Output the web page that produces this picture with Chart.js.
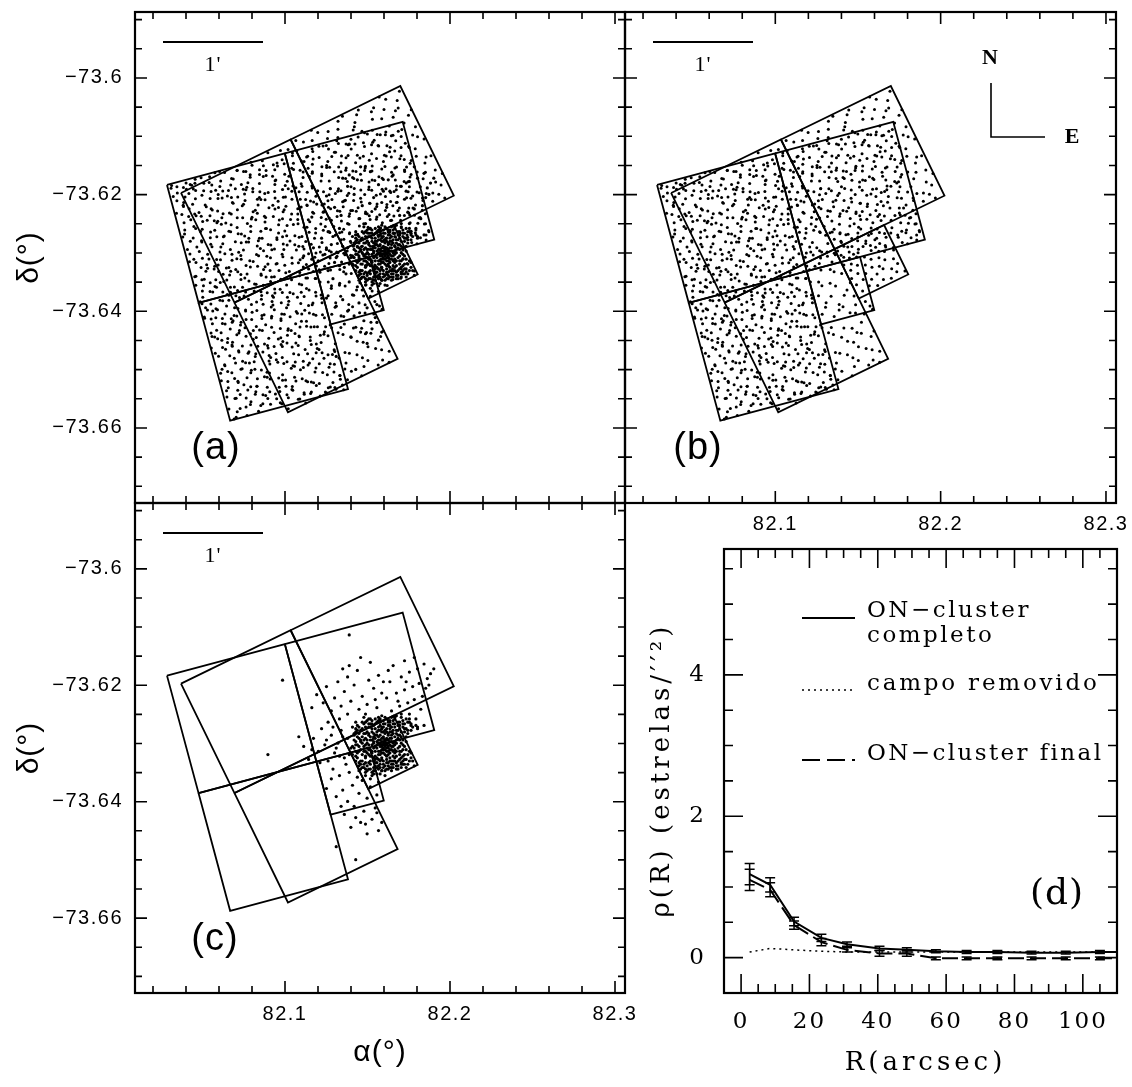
<!DOCTYPE html>
<html>
<head>
<meta charset="utf-8">
<script src="https://cdn.jsdelivr.net/npm/chart.js@4.4.0/dist/chart.umd.min.js"></script>
<style>
  html, body { margin: 0; padding: 0; background: #fff; }
  #wrap { position: relative; width: 1132px; height: 1087px; background: #fff; }
  #wrap canvas { position: absolute; left: 0; top: 0; }
</style>
</head>
<body>
<div id="wrap">
  <canvas id="panelA" width="1132" height="1087"></canvas>
  <canvas id="panelB" width="1132" height="1087"></canvas>
  <canvas id="panelC" width="1132" height="1087"></canvas>
  <canvas id="panelD" width="1132" height="1087"></canvas>
</div>
<script>
// ---- axis ranges and tick labels ----
const RA_MIN = 82.00909, RA_MAX = 82.30606;
const DEC_MIN = -73.67286, DEC_MAX = -73.58869;
const raTicks = [82.1, 82.2, 82.3];
const raTickLabels = ['82.1', '82.2', '82.3'];
const decTicks = [-73.6, -73.62, -73.64, -73.66];
const decTickLabels = ['\u221273.6', '\u221273.62', '\u221273.64', '\u221273.66'];
const rTicks = [0, 20, 40, 60, 80, 100];
const rhoTicks = [0, 2, 4];

// ---- WFPC2 chip outlines, corners [RA, Dec] (TL, TR, BR, BL) ----
// pointing 1
const chipP1UL = [[82.03697, -73.61971], [82.10342, -73.61055], [82.13584, -73.62934], [82.06938, -73.63851]];
const chipP1UR = [[82.10342, -73.61055], [82.16988, -73.60138], [82.20229, -73.62018], [82.13584, -73.62934]];
const chipP1LL = [[82.06938, -73.63851], [82.13584, -73.62934], [82.16825, -73.64814], [82.10179, -73.65731]];
const chipP1PC = [[82.13584, -73.62934], [82.16579, -73.62521], [82.18041, -73.63368], [82.15045, -73.63782]];
// pointing 2
const chipP2UL = [[82.02848, -73.61834], [82.09990, -73.61293], [82.11904, -73.63313], [82.04762, -73.63854]];
const chipP2UR = [[82.09990, -73.61293], [82.17132, -73.60752], [82.19046, -73.62772], [82.11904, -73.63313]];
const chipP2LL = [[82.04762, -73.63854], [82.11904, -73.63313], [82.13817, -73.65333], [82.06675, -73.65875]];
const chipP2PC = [[82.11904, -73.63313], [82.15124, -73.63069], [82.15986, -73.63980], [82.12766, -73.64224]];
const chips = [chipP1UL, chipP1UR, chipP1LL, chipP1PC, chipP2UL, chipP2UR, chipP2LL, chipP2PC];

// ---- field stars: position inside a chip, [% along top edge, % down side edge] ----
const fieldP1UL = [[1,4],[10,1],[17,6],[24,2],[33,5],[39,0],[49,3],[55,7],[62,2],[71,5],[78,1],[88,4],[94,6],
[4,12],[8,9],[19,14],[26,10],[31,13],[43,8],[47,15],[57,11],[64,14],[70,9],[81,12],[86,15],[96,10],
[2,20],[13,17],[16,22],[28,18],[35,21],[41,16],[50,19],[54,22],[66,17],[73,20],[77,16],[90,21],[93,18],
[6,24],[9,29],[20,26],[23,30],[34,25],[44,28],[46,23],[58,27],[61,30],[74,24],[82,29],[85,26],[97,28],
[0,35],[14,32],[18,37],[29,33],[32,38],[40,31],[52,36],[56,33],[67,37],[69,32],[80,35],[91,38],[95,32],
[5,43],[11,39],[21,45],[25,41],[36,40],[42,44],[48,39],[59,42],[63,45],[75,40],[79,44],[87,41],[98,43],
[3,48],[12,52],[15,47],[27,50],[37,53],[45,46],[51,51],[53,48],[68,50],[72,47],[83,53],[89,49],[92,52],
[7,57],[10,60],[22,55],[30,59],[31,54],[41,61],[49,56],[60,58],[65,55],[76,61],[78,57],[88,54],[99,59],
[1,66],[15,63],[17,68],[25,64],[38,69],[43,62],[54,67],[57,64],[62,69],[71,63],[84,67],[90,62],[94,68],
[6,71],[8,75],[20,70],[28,76],[33,72],[46,74],[47,70],[59,76],[68,72],[73,75],[80,70],[86,74],[97,71],
[2,80],[13,78],[19,83],[24,79],[35,84],[40,77],[52,81],[55,78],[64,83],[74,80],[77,84],[91,78],[95,82],
[5,88],[11,91],[16,85],[29,89],[32,92],[44,86],[50,90],[58,87],[66,91],[70,85],[82,89],[87,92],[98,86],
[3,95],[9,98],[21,93],[27,97],[36,94],[42,99],[48,96],[61,93],[63,98],[75,95],[81,93],[89,97],[93,99]];
const fieldP1UR = [[3,2],[8,6],[18,0],[22,4],[30,7],[41,3],[46,1],[57,5],[60,2],[72,6],[80,0],[84,4],[97,3],
[0,10],[12,14],[15,8],[27,12],[35,15],[38,9],[51,13],[53,10],[67,14],[69,8],[79,11],[90,15],[92,9],
[6,18],[9,22],[21,16],[24,20],[33,17],[44,21],[49,15],[55,19],[63,22],[74,17],[83,20],[87,16],[99,21],
[2,27],[14,23],[19,29],[28,25],[31,30],[40,24],[52,28],[58,23],[65,27],[71,30],[77,25],[89,28],[95,24],
[4,31],[10,36],[16,33],[25,37],[36,32],[43,35],[47,38],[59,31],[62,36],[75,33],[82,37],[85,32],[96,35],
[7,41],[13,44],[20,39],[29,42],[34,45],[39,40],[50,43],[54,39],[68,44],[70,41],[78,45],[91,40],[94,43],
[1,47],[11,50],[17,53],[26,48],[32,51],[45,46],[48,52],[60,49],[64,46],[73,53],[84,48],[88,51],[98,47],
[5,58],[8,54],[23,60],[27,56],[37,55],[42,59],[53,61],[56,54],[66,58],[76,55],[79,60],[86,57],[93,61],
[3,63],[14,68],[18,64],[24,67],[33,62],[41,66],[49,69],[61,63],[62,67],[72,64],[81,69],[90,65],[97,62],
[6,73],[10,70],[22,76],[29,71],[35,75],[46,72],[52,70],[57,75],[69,73],[74,70],[83,76],[87,72],[95,74],
[0,79],[12,83],[15,77],[28,81],[30,84],[40,78],[47,82],[58,80],[64,84],[70,77],[78,81],[91,83],[99,79],
[4,86],[9,90],[19,88],[25,92],[38,87],[43,91],[51,85],[55,89],[67,86],[75,92],[80,88],[85,90],[94,87],
[7,96],[13,93],[21,99],[26,94],[34,97],[44,95],[48,93],[60,98],[65,94],[71,99],[82,96],[89,93],[92,98]];
const fieldP1LL = [[0,5],[11,2],[16,7],[23,1],[34,4],[38,6],[50,0],[57,3],[61,7],[73,2],[79,5],[86,1],[98,4],
[5,9],[9,13],[20,11],[27,15],[30,8],[44,12],[46,14],[54,9],[68,11],[70,15],[82,10],[89,13],[93,8],
[2,16],[14,21],[17,19],[25,16],[36,22],[40,18],[53,20],[59,17],[63,21],[76,18],[77,22],[91,16],[96,20],
[7,25],[10,30],[22,23],[28,28],[32,26],[42,30],[48,24],[56,29],[66,25],[71,28],[84,23],[87,27],[99,30],
[3,33],[12,38],[18,31],[24,35],[37,37],[45,32],[51,34],[55,38],[64,31],[74,36],[80,33],[90,37],[94,34],
[1,40],[8,45],[21,42],[29,39],[33,44],[39,41],[47,45],[60,40],[67,43],[72,39],[83,42],[85,45],[97,41],
[6,51],[13,46],[19,49],[26,53],[35,48],[43,52],[52,47],[58,50],[62,53],[75,49],[81,46],[88,52],[95,48],
[4,55],[10,59],[15,57],[28,61],[31,54],[41,58],[49,60],[54,55],[65,59],[69,56],[78,61],[92,54],[98,58],
[0,64],[14,62],[20,67],[23,65],[37,69],[44,63],[46,68],[59,66],[68,62],[73,67],[84,64],[86,69],[93,63],
[7,74],[9,70],[17,76],[27,72],[33,71],[40,75],[53,73],[56,70],[63,76],[76,72],[80,75],[89,71],[99,74],
[2,78],[12,82],[22,80],[25,84],[36,77],[46,81],[48,79],[60,84],[66,78],[71,82],[82,80],[87,84],[95,77],
[5,89],[11,85],[18,92],[29,87],[30,90],[42,86],[51,91],[57,88],[61,92],[74,86],[77,90],[91,87],[96,91],
[1,97],[13,94],[16,99],[24,93],[38,96],[43,98],[50,94],[55,97],[67,99],[72,93],[83,97],[88,95],[92,99]];
const fieldP1PC = [[3,5],[17,2],[30,9],[44,4],[57,11],[72,3],[86,8],
[8,20],[21,16],[35,24],[48,18],[61,22],[77,15],[93,21],
[2,33],[15,37],[29,30],[42,36],[58,31],[70,38],[85,34],
[9,47],[24,44],[37,50],[51,45],[65,49],[79,43],[95,48],
[4,61],[18,58],[31,64],[46,59],[59,63],[73,57],[88,62],
[7,75],[22,72],[36,78],[49,74],[63,70],[77,77],[91,73],
[12,90],[27,87],[41,93],[55,88],[69,92],[83,86],[97,91]];
const fieldP2UL = [[7,3],[52,8],[23,1],[88,6],[35,9],[71,2],[14,7],[96,4],[44,0],[63,5],[29,6],[81,9],[3,1],[58,3],[91,8],[18,4],[76,7],
[41,12],[9,17],[67,11],[25,15],[86,19],[50,13],[2,10],[73,18],[33,14],[95,16],[15,11],[59,19],[80,13],[47,17],[21,10],[64,15],[38,18],
[12,23],[78,27],[45,21],[93,25],[30,29],[61,20],[5,26],[85,22],[19,28],[53,24],[70,29],[37,21],[99,27],[26,25],[66,23],[8,20],[48,28],
[56,31],[20,36],[89,34],[4,39],[68,30],[36,37],[11,32],[79,38],[43,35],[97,31],[27,33],[62,39],[84,36],[16,30],[50,34],[74,32],[32,39],
[1,44],[46,48],[83,41],[24,46],[60,43],[92,49],[13,40],[70,45],[38,42],[55,47],[87,44],[31,40],[6,49],[77,47],[18,42],[65,41],[98,46],
[34,52],[72,57],[10,55],[57,50],[90,53],[22,58],[48,54],[81,51],[3,59],[64,56],[40,50],[95,58],[15,52],[69,55],[28,51],[53,59],[86,57],
[60,63],[17,67],[83,61],[42,68],[5,64],[75,66],[29,60],[93,69],[52,62],[12,65],[67,68],[36,64],[99,62],[23,69],[80,65],[46,61],[58,67],
[9,72],[49,77],[88,74],[26,70],[66,79],[35,73],[79,71],[2,78],[57,75],[94,77],[19,76],[43,71],[71,73],[31,78],[85,70],[14,74],[62,72],
[54,83],[21,88],[76,81],[39,86],[97,84],[7,82],[63,89],[30,84],[89,87],[45,80],[13,86],[70,85],[36,81],[82,88],[1,85],[58,87],[25,82],
[44,93],[86,97],[17,91],[65,95],[33,98],[93,92],[4,96],[55,90],[78,94],[24,99],[70,91],[11,93],[49,97],[38,90],[97,99],[61,98],[28,94]];
const fieldP2UR = [[61,2],[16,7],[84,4],[39,9],[5,3],[73,8],[28,1],[94,6],[50,5],[11,9],[67,0],[44,3],[89,8],[22,4],[57,7],[34,2],[79,5],
[3,14],[70,11],[26,18],[90,13],[47,16],[13,10],[58,19],[82,15],[36,12],[97,17],[19,14],[64,11],[42,19],[8,16],[75,13],[53,10],[30,18],
[87,21],[40,26],[14,23],[66,28],[99,20],[24,25],[52,29],[78,22],[6,27],[45,24],[91,26],[32,20],[60,28],[17,21],[83,25],[71,23],[1,29],
[48,33],[22,38],[76,31],[9,35],[63,39],[37,30],[93,36],[55,32],[28,37],[85,34],[14,31],[69,38],[43,35],[98,32],[2,39],[59,30],[80,37],
[31,42],[88,47],[12,44],[54,49],[72,41],[40,46],[95,43],[20,48],[65,40],[6,45],[47,42],[81,49],[27,46],[59,44],[36,41],[91,48],[15,40],
[75,53],[4,57],[50,51],[29,56],[96,58],[63,52],[18,54],[84,50],[41,59],[9,52],[70,55],[56,57],[35,50],[89,56],[24,53],[46,58],[80,52],
[13,63],[67,66],[38,61],[92,68],[21,60],[56,64],[7,69],[78,62],[45,67],[99,64],[30,65],[61,61],[86,69],[16,66],[51,63],[73,60],[2,67],
[58,71],[34,76],[85,73],[10,78],[69,70],[26,74],[93,79],[47,72],[77,77],[18,71],[62,75],[40,79],[5,73],[89,76],[53,70],[30,72],[81,74],
[22,82],[74,87],[48,80],[3,85],[90,83],[37,89],[64,81],[14,86],[83,88],[56,84],[28,80],[96,85],[42,83],[8,88],[69,86],[33,84],[60,89],
[79,92],[11,96],[52,90],[36,98],[94,94],[25,91],[67,97],[45,93],[2,99],[86,90],[59,95],[19,92],[73,99],[40,96],[97,91],[30,94],[63,93]];
const fieldP2LL = [[33,4],[78,1],[12,8],[56,6],[91,3],[25,0],[68,9],[4,5],[46,2],[85,7],[19,3],[62,8],[39,1],[97,5],[9,9],[73,4],[51,7],
[83,13],[27,18],[60,11],[6,15],[94,19],[41,12],[15,17],[71,14],[50,10],[35,16],[88,11],[22,19],[65,17],[1,12],[79,16],[44,18],[58,14],
[16,22],[54,27],[90,24],[31,29],[70,20],[8,25],[47,23],[82,28],[23,21],[63,26],[38,24],[98,22],[3,29],[75,27],[58,21],[28,26],[86,25],
[61,31],[14,37],[42,34],[96,38],[25,32],[77,36],[5,30],[53,39],[88,33],[34,35],[69,30],[18,38],[48,31],[81,37],[10,34],[65,39],[37,33],
[2,43],[45,48],[80,41],[21,46],[63,44],[93,49],[35,40],[72,47],[11,42],[55,45],[86,43],[29,49],[67,41],[43,46],[99,45],[17,40],[58,48],
[40,52],[84,57],[7,55],[61,50],[27,58],[95,53],[50,56],[16,51],[74,59],[33,54],[89,51],[4,57],[68,52],[45,58],[22,55],[80,53],[56,50],
[75,63],[12,67],[49,61],[91,68],[30,64],[64,60],[1,66],[85,62],[39,69],[20,61],[57,65],[97,67],[43,63],[8,60],[70,68],[26,66],[82,64],
[36,72],[94,77],[18,74],[59,71],[77,79],[5,73],[47,76],[87,70],[28,78],[66,74],[14,71],[52,79],[99,73],[40,75],[73,72],[23,77],[62,70],
[9,83],[55,88],[83,81],[31,86],[68,84],[2,80],[45,87],[92,83],[20,89],[60,82],[37,85],[78,89],[13,81],[51,84],[96,87],[26,82],[72,86],
[64,93],[24,98],[89,91],[43,96],[7,94],[76,99],[34,90],[58,97],[15,92],[96,95],[50,91],[81,97],[29,93],[69,95],[3,99],[41,92],[86,94]];
// extra stars in the strips of pointing 2 not covered by pointing 1
const stripP2UL = [[2,3],[6,8],[4,14],[8,19],[1,24],[10,29],[5,33],[12,38],[3,42],[9,47],[15,51],[2,55],[11,59],
[17,63],[6,67],[14,71],[20,74],[3,78],[9,82],[18,85],[24,88],[5,91],[13,94],[21,96],[27,98],[1,99],[16,90],
[7,87],[12,76],[1,65],[22,79],[15,2],[22,4],[28,1],[35,2],[40,0],[19,5],[12,5]];
const stripP2UR = [[76,83],[84,81],[92,79],[98,77],[79,90],[87,88],[95,85],[81,97],[89,95],[97,92],[85,99],[93,98]];
const stripP2LL = [[2,1],[9,3],[17,2],[24,4],[5,7],[13,9],[21,8],[27,11],[1,13],[10,15],[18,14],[25,17],[6,19],
[14,21],[22,22],[29,24],[3,26],[11,28],[19,27],[26,30],[7,32],[15,34],[23,33],[30,36],[0,38],[9,40],[17,41],
[25,43],[32,44],[4,46],[13,48],[21,47],[28,50],[34,52],[7,54],[16,55],[24,57],[31,58],[2,60],[11,62],[19,61],
[27,64],[35,66],[6,68],[14,70],[22,69],[30,72],[38,73],[3,75],[12,77],[20,79],[28,78],[36,81],[8,83],[17,85],
[25,84],[33,87],[41,88],[1,90],[10,92],[19,91],[27,94],[35,95],[44,97],[5,98],[14,99],[82,98],[90,97],[96,99]];
const stripP2PC = [[88,80],[94,90],[97,97]];

// ---- cluster members: offsets from the centre in arcsec [east, north] ----
const clusterCenter = [82.16061, -73.63051];
const clusterCore = [[0,0],[1,2],[-1,1],[2,-1],[-2,-2],[3,1],[-3,0],[0,3],[1,-3],[-1,-4],[4,-2],[-4,2],[2,4],
[-2,5],[5,0],[-5,-1],[3,-4],[-3,-3],[4,3],[-4,4],[0,-5],[1,5],[-1,-1],[2,2],[-2,3],[3,-2],[-3,-5],[5,2],[-5,3],
[0,1],[1,-1],[-1,3],[2,0],[-2,0],[3,3],[-3,2],[4,0],[-4,-3],[0,-2],[1,1],[-1,-2],[2,-3],[-2,-4],[3,5],[-3,4],
[5,-3],[-5,1],[4,5],[-4,-5],[1,4],[-1,5],[2,-5],[-2,1],[0,4],[6,1],[-6,0],[1,-6],[-1,6],[6,-2],[-6,-3],
[7,2],[8,-1],[9,4],[10,-3],[11,1],[12,-5],[7,-6],[9,-8],[11,-9],[8,7],[10,6],[12,9],[7,10],[5,8],[6,-9],
[4,-11],[8,-12],[3,9],[4,12],[1,11],[-1,9],[-2,12],[-4,10],[-5,7],[-6,11],[-7,6],[-8,9],[-9,4],[-10,7],
[-11,2],[-12,5],[-7,-1],[-8,1],[-9,-2],[-10,-5],[-11,-1],[-12,-3],[-7,-7],[-8,-4],[-9,-9],[-6,-10],[-4,-8],
[-3,-11],[-1,-9],[0,-12],[2,-10],[-5,-13],[1,-8],[0,8],[2,7],[-3,7],[-6,5],[-7,3],[-8,-6],[-5,-7],[3,-7],
[5,-6],[6,-4],[7,4],[9,0],[10,9],[11,-6],[13,-2],[13,3],[-13,0],[-13,4],[-12,-7],[-10,-10],[-11,9],[-9,12],
[-3,13],[3,13],[6,12],[9,11],[-2,-7],[-6,-6],[4,7],[-4,6],[5,-9],[-7,8],
[6,3],[7,-3],[8,5],[9,-5],[10,2],[11,-2],[12,0],[6,-7],[7,8],[8,-9],[9,7],[10,-7],[5,10],[4,-9],[3,11],
[2,-12],[1,9],[0,10],[-1,-11],[-2,9],[-3,-9],[-4,12],[-5,9],[-6,-8],[-7,5],[-8,-3],[-9,6],[-10,-2],[-11,4],
[-12,1],[-7,2],[-8,4],[-9,-6],[-10,1],[-11,-4],[-6,7],[-5,-10],[-3,10],[-1,12],[1,-10],[3,-9],[5,-11],
[7,-10],[9,-3],[11,4],[12,-8],[10,-11],[8,10],[-12,-6],[-10,8],[-8,11],[-6,-12],[-4,-12],[-2,-8],[2,8],
[4,9],[6,6],[-7,-9],[-9,-11],[-12,8],
[-14,2],[-15,-2],[-16,5],[-17,-7],[-13,8],[-14,-9],[-12,12],[-10,14],[-8,16],[-6,14],[-3,17],[-1,14],[2,13],
[5,16],[8,15],[11,14],[14,15],[17,12],[13,17],[10,18],[-19,4],[-18,-3],[-17,6],[-16,-12],[-13,-13],[-11,-12],
[-9,-14],[-7,-15],[-4,-14],[-1,-13],[2,-14],[5,-13],[8,-14],[11,-11],[13,-8],[14,-5],[-15,10],[-13,-3],[-14,6],
[-12,-10],[-10,12],[-7,13],[-5,15],[-2,11],[0,14],[3,15],[6,14],[9,13],[12,11],[16,10],[-16,0],[-18,-9],
[-15,-11],[-10,-14],[-6,-15],[-3,-13],[0,-15],[4,-13],[7,-12],[10,-10],[12,-11],[-19,7],[-17,13],[-11,16],
[-4,16],[1,17],[7,19],[15,15],[19,13],[-20,0],[-20,-5],[-18,11],[-14,15],[-9,17],[-2,19],[4,18],[-16,-15],
[-12,-18],[-8,-18],[-3,-17]];
const clusterHalo = [[13,-13],[15,-9],[16,-4],[14,10],[16,13],[12,14],[9,15],[6,17],[3,16],[0,18],[-3,15],
[-6,17],[-9,14],[-12,15],[-14,11],[-16,8],[-15,4],[-17,1],[-16,-3],[-18,-6],[-15,-9],[-14,-13],[-11,-15],
[-8,-16],[-5,-17],[-2,-15],[1,-14],[4,-15],[7,-14],[10,-13],[-13,14],[-17,10],[-18,3],[-14,-5],[-13,-11],
[-10,17],[-4,18],[2,16],[8,13],[11,12],[-16,12],[-19,-1],[-12,-16],[-7,-13],[3,-13],[5,14],[-1,16],[-18,9],
[-15,-14],[13,11],[15,17],
[2,15],[6,18],[11,16],[15,20],[19,17],[22,23],[4,22],[9,25],[14,27],[18,29],[23,31],[1,30],[7,33],[12,35],
[17,37],[21,39],[26,42],[3,40],[10,43],[15,46],[20,48],[28,45],[5,50],[12,53],[24,51],[8,28],[16,14],[20,12],
[13,40],[25,36],[2,47],[18,55],[30,48],[27,38],[10,20],
[-3,16],[-8,14],[-13,18],[-18,15],[-23,20],[-28,17],[-5,24],[-11,26],[-16,23],[-21,28],[-27,25],[-33,22],
[-2,33],[-7,36],[-14,31],[-19,38],[-25,34],[-31,30],[-38,27],[-4,44],[-10,41],[-17,47],[-23,43],[-29,40],
[-36,37],[-9,52],[-15,55],[-22,50],[-42,32],[-12,20],[-35,15],[-45,24],[-6,29],[-1,40],[-26,48],
[-15,3],[-17,-4],[-19,8],[-21,-1],[-23,5],[-25,-7],[-27,10],[-29,2],[-31,-4],[-33,7],[-35,-9],[-37,1],
[-39,11],[-41,-3],[-44,5],[-47,-8],[-50,0],[-53,6],[-16,-10],[-20,12],[-24,-11],[-28,-6],[-32,12],[-36,4],
[-40,-10],[-45,-2],[-18,1],[-22,-5],[-26,6],[-30,-1],
[-2,-15],[-7,-17],[-12,-14],[-17,-19],[-22,-16],[-28,-18],[-4,-22],[-9,-25],[-14,-21],[-20,-24],[-26,-27],
[-33,-20],[-5,-30],[-11,-32],[-16,-29],[-23,-34],[-30,-31],[-6,-38],[-13,-40],[-19,-37],[-25,-42],[-8,-45],
[-15,-47],[-21,-50],[-4,-52],[-11,-54],[-36,-26],[-5,-41],[-18,-44],[-9,-20],[0,-18],[-27,-37],[-12,-48],
[-2,-47],[-32,-14],
[14,-11],[16,-7],[15,-3],[18,-12],[13,6],[14,8],[17,-9],[20,11],[24,13],
[-63,41],[-72,-5],[-22,69],[-30,-62],[-18,-70]];

// ---- panel (d): radial density profile ----
const radius = [2.5, 8.5, 15.5, 23.5, 31, 40.5, 48.5, 57, 66, 75, 85, 95, 105, 110];
const rhoComplete = [1.18, 1.03, 0.51, 0.28, 0.19, 0.13, 0.11, 0.09, 0.08, 0.08, 0.07, 0.07, 0.08, 0.08];
const errComplete = [0.15, 0.10, 0.06, 0.05, 0.03, 0.03, 0.03, 0.02, 0.02, 0.02, 0.02, 0.02, 0.02, 0];
const rhoField = [0.08, 0.13, 0.11, 0.09, 0.08, 0.08, 0.08, 0.08, 0.08, 0.08, 0.08, 0.08, 0.08, 0.08];
const rhoFinal = [1.10, 0.96, 0.46, 0.22, 0.11, 0.06, 0.06, -0.01, -0.01, -0.01, -0.01, -0.01, -0.01, -0.01];
const errFinal = [0.15, 0.10, 0.06, 0.05, 0.03, 0.04, 0.04, 0.02, 0.02, 0.02, 0.02, 0.02, 0.02, 0];

// ---- helpers ----
const SANS = '"Liberation Sans", Arial, sans-serif';
const SERIF = '"DejaVu Serif", "Liberation Serif", serif';
const COS_DEC = Math.cos(clusterCenter[1] * Math.PI / 180);

function chipPoint(chip, a, b) {
  const tl = chip[0], tr = chip[1], bl = chip[3];
  const fa = (a + 0.5) / 100, fb = (b + 0.5) / 100;
  return {
    x: tl[0] + fa * (tr[0] - tl[0]) + fb * (bl[0] - tl[0]),
    y: tl[1] + fa * (tr[1] - tl[1]) + fb * (bl[1] - tl[1])
  };
}
function offsetPoint(p) {
  return { x: clusterCenter[0] + p[0] / 3600 / COS_DEC, y: clusterCenter[1] + p[1] / 3600 };
}
function onChip(chip, list) { return list.map(p => chipPoint(chip, p[0], p[1])); }

const fieldStars = [].concat(
  onChip(chipP1UL, fieldP1UL), onChip(chipP1UR, fieldP1UR), onChip(chipP1LL, fieldP1LL),
  onChip(chipP1PC, fieldP1PC), onChip(chipP2UL, fieldP2UL), onChip(chipP2UR, fieldP2UR),
  onChip(chipP2LL, fieldP2LL), onChip(chipP2UL, stripP2UL), onChip(chipP2UR, stripP2UR),
  onChip(chipP2LL, stripP2LL), onChip(chipP2PC, stripP2PC)
);
const clusterStars = clusterCore.concat(clusterHalo).map(offsetPoint);

function starSet(points, r) {
  return { data: points, showLine: false, pointRadius: r, pointHoverRadius: r,
           pointBackgroundColor: '#000', pointBorderWidth: 0, order: 2 };
}
function outlineSets() {
  return chips.map(c => ({
    data: c.concat([c[0]]).map(p => ({ x: p[0], y: p[1] })),
    showLine: true, borderColor: '#000', borderWidth: 1.8, pointRadius: 0, fill: false, order: 1
  }));
}

function tickValues(min, max, step) {
  const out = [];
  for (let k = Math.ceil(min / step - 1e-9); k * step <= max + 1e-9; k++) {
    const v = k * step;
    if (v > min + 1e-9 && v < max - 1e-9) out.push(v);
  }
  return out;
}
function isMajor(v, step) { const q = v / step; return Math.abs(q - Math.round(q)) < 1e-6; }

function drawText(ctx, str, x, y, font, align, spacing, angle) {
  ctx.save();
  ctx.font = font;
  ctx.fillStyle = '#000';
  ctx.textAlign = align || 'center';
  ctx.textBaseline = 'middle';
  ctx.letterSpacing = (spacing || 0) + 'px';
  ctx.translate(x, y);
  if (angle) ctx.rotate(angle);
  ctx.fillText(str, 0, 0);
  ctx.restore();
}

// frame with inward ticks on all four sides, plus extra decorations
function framePlugin(cfg) {
  return {
    id: 'frame',
    afterDatasetsDraw(chart) {
      const { ctx, chartArea: a, scales: { x, y } } = chart;
      ctx.save();
      ctx.strokeStyle = '#000';
      ctx.lineWidth = 2.2;
      ctx.strokeRect(a.left, a.top, a.right - a.left, a.bottom - a.top);
      ctx.lineWidth = 1.6;
      ctx.beginPath();
      tickValues(x.min, x.max, cfg.xMinor).forEach(v => {
        const px = x.getPixelForValue(v);
        const len = isMajor(v, cfg.xMajor) ? cfg.majorLen : cfg.minorLen;
        ctx.moveTo(px, a.bottom); ctx.lineTo(px, a.bottom - len);
        ctx.moveTo(px, a.top); ctx.lineTo(px, a.top + len);
      });
      tickValues(y.min, y.max, cfg.yMinor).forEach(v => {
        const py = y.getPixelForValue(v);
        const len = isMajor(v, cfg.yMajor) ? cfg.majorLen : cfg.minorLen;
        ctx.moveTo(a.left, py); ctx.lineTo(a.left + len, py);
        ctx.moveTo(a.right, py); ctx.lineTo(a.right - len, py);
      });
      ctx.stroke();
      ctx.restore();
      if (cfg.extra) cfg.extra(chart);
    }
  };
}

function scaleBar(chart) {
  const { ctx, chartArea: a } = chart;
  ctx.save();
  ctx.strokeStyle = '#000';
  ctx.lineWidth = 2;
  ctx.beginPath();
  ctx.moveTo(a.left + 28, a.top + 30);
  ctx.lineTo(a.left + 128, a.top + 30);
  ctx.stroke();
  ctx.restore();
  drawText(ctx, "1'", a.left + 78, a.top + 53, '22px "Liberation Serif", serif', 'center', 1);
}

function mapPanel(id, pad, datasets, labelX, labelY, panelLabel, labelPos, extra) {
  return new Chart(document.getElementById(id), {
    type: 'scatter',
    data: { datasets: datasets },
    options: {
      responsive: false, animation: false, events: [],
      layout: { padding: pad },
      plugins: { legend: { display: false }, tooltip: { enabled: false } },
      scales: {
        x: { type: 'linear', min: RA_MIN, max: RA_MAX, display: false },
        y: { type: 'linear', min: DEC_MIN, max: DEC_MAX, display: false }
      }
    },
    plugins: [framePlugin({
      xMinor: 0.02, xMajor: 0.1, yMinor: 0.005, yMajor: 0.02, majorLen: 12, minorLen: 7,
      extra(chart) {
        const { ctx, chartArea: a, scales: { x, y } } = chart;
        scaleBar(chart);
        drawText(ctx, panelLabel, a.left + labelPos[0], a.top + labelPos[1], '38px ' + SANS, 'center', 1);
        if (labelY) {
          decTicks.forEach((v, i) => drawText(ctx, decTickLabels[i], a.left - 12, y.getPixelForValue(v), '20px ' + SANS, 'right', 1.5));
          drawText(ctx, '\u03b4(\u00b0)', 30, (a.top + a.bottom) / 2, '30px ' + SANS, 'center', 1, -Math.PI / 2);
        }
        if (labelX) {
          raTicks.forEach((v, i) => drawText(ctx, raTickLabels[i], x.getPixelForValue(v), a.bottom + 21, '20px ' + SANS, 'center', 1.5));
        }
        if (extra) extra(chart);
      }
    })]
  });
}

// ---- panels (a), (b), (c) ----
mapPanel('panelA', { left: 135, top: 12, right: 507, bottom: 584 },
  [starSet(fieldStars, 1.5), starSet(clusterStars, 1.6)].concat(outlineSets()),
  false, true, '(a)', [81, 437]);

mapPanel('panelB', { left: 625, top: 12, right: 16, bottom: 584 },
  [starSet(fieldStars, 1.5)].concat(outlineSets()),
  true, false, '(b)', [73, 437], chart => {
    const { ctx, chartArea: a } = chart;
    ctx.save();
    ctx.strokeStyle = '#000';
    ctx.lineWidth = 1.6;
    ctx.beginPath();
    ctx.moveTo(a.left + 366, a.top + 71);
    ctx.lineTo(a.left + 366, a.top + 125);
    ctx.lineTo(a.left + 420, a.top + 125);
    ctx.stroke();
    ctx.restore();
    drawText(ctx, 'N', a.left + 365, a.top + 46, 'bold 22px "Liberation Serif", serif', 'center', 0);
    drawText(ctx, 'E', a.left + 447, a.top + 125, 'bold 22px "Liberation Serif", serif', 'center', 0);
  });

mapPanel('panelC', { left: 135, top: 503, right: 507, bottom: 94 },
  [starSet(clusterStars, 1.6)].concat(outlineSets()),
  true, true, '(c)', [80, 437], chart => {
    const { ctx, chartArea: a } = chart;
    drawText(ctx, '\u03b1(\u00b0)', (a.left + a.right) / 2, 1053, '30px ' + SANS, 'center', 1);
  });

// ---- panel (d) ----
const errorBarPlugin = {
  id: 'errorBars',
  afterDatasetsDraw(chart) {
    const { ctx, scales: { x, y } } = chart;
    ctx.save();
    ctx.strokeStyle = '#000';
    ctx.lineWidth = 1.5;
    ctx.setLineDash([]);
    chart.data.datasets.forEach(ds => {
      if (!ds.errorBars) return;
      ds.data.forEach((p, i) => {
        const e = ds.errorBars[i];
        if (!e) return;
        const px = x.getPixelForValue(p.x);
        const y1 = y.getPixelForValue(p.y - e), y2 = y.getPixelForValue(p.y + e);
        ctx.beginPath();
        ctx.moveTo(px, y1); ctx.lineTo(px, y2);
        ctx.moveTo(px - 5, y1); ctx.lineTo(px + 5, y1);
        ctx.moveTo(px - 5, y2); ctx.lineTo(px + 5, y2);
        ctx.stroke();
      });
    });
    ctx.restore();
  }
};

function profile(values) { return radius.map((r, i) => ({ x: r, y: values[i] })); }

new Chart(document.getElementById('panelD'), {
  type: 'scatter',
  data: {
    datasets: [
      { label: 'ON\u2212cluster completo', data: profile(rhoComplete), errorBars: errComplete,
        showLine: true, borderColor: '#000', borderWidth: 2, pointRadius: 0, tension: 0 },
      { label: 'campo removido', data: profile(rhoField),
        showLine: true, borderColor: '#000', borderWidth: 1.5, borderDash: [2, 4], pointRadius: 0, tension: 0 },
      { label: 'ON\u2212cluster final', data: profile(rhoFinal), errorBars: errFinal,
        showLine: true, borderColor: '#000', borderWidth: 2, borderDash: [16, 6], pointRadius: 0, tension: 0 }
    ]
  },
  options: {
    responsive: false, animation: false, events: [],
    layout: { padding: { left: 724, top: 549, right: 15, bottom: 94 } },
    plugins: { legend: { display: false }, tooltip: { enabled: false } },
    scales: {
      x: { type: 'linear', min: -5, max: 110, display: false },
      y: { type: 'linear', min: -0.5, max: 5.78, display: false }
    }
  },
  plugins: [errorBarPlugin, framePlugin({
    xMinor: 5, xMajor: 20, yMinor: 0.5, yMajor: 2, majorLen: 19, minorLen: 9,
    extra(chart) {
      const { ctx, chartArea: a, scales: { x, y } } = chart;
      const f = '23px ' + SERIF;
      rTicks.forEach(v => drawText(ctx, String(v), x.getPixelForValue(v), a.bottom + 29, f, 'center', 2));
      rhoTicks.forEach(v => drawText(ctx, String(v), a.left - 20, y.getPixelForValue(v), f, 'right', 0));
      drawText(ctx, 'R(arcsec)', (a.left + a.right) / 2 + 5, 1063, '26px ' + SERIF, 'center', 4);
      drawText(ctx, '\u03c1(R) (estrelas/\u2032\u2032\u00b2)', 662, 770, '26px ' + SERIF, 'center', 4, -Math.PI / 2);
      drawText(ctx, '(d)', 1057, 895, '36px ' + SERIF, 'center', 1);
      // legend
      const lx0 = 802, lx1 = 855, tx = 867;
      ctx.save();
      ctx.strokeStyle = '#000';
      ctx.lineWidth = 2;
      ctx.beginPath(); ctx.moveTo(lx0, 618); ctx.lineTo(lx1, 618); ctx.stroke();
      ctx.lineWidth = 1.5; ctx.setLineDash([2, 4]);
      ctx.beginPath(); ctx.moveTo(lx0, 690); ctx.lineTo(lx1, 690); ctx.stroke();
      ctx.lineWidth = 2; ctx.setLineDash([18, 7]);
      ctx.beginPath(); ctx.moveTo(lx0, 760); ctx.lineTo(lx1, 760); ctx.stroke();
      ctx.restore();
      drawText(ctx, 'ON\u2212cluster', tx, 611, f, 'left', 2.5);
      drawText(ctx, 'completo', tx, 636, f, 'left', 2.5);
      drawText(ctx, 'campo removido', tx, 684, f, 'left', 2.8);
      drawText(ctx, 'ON\u2212cluster final', tx, 754, f, 'left', 2.4);
    }
  })]
});
</script>
</body>
</html>
